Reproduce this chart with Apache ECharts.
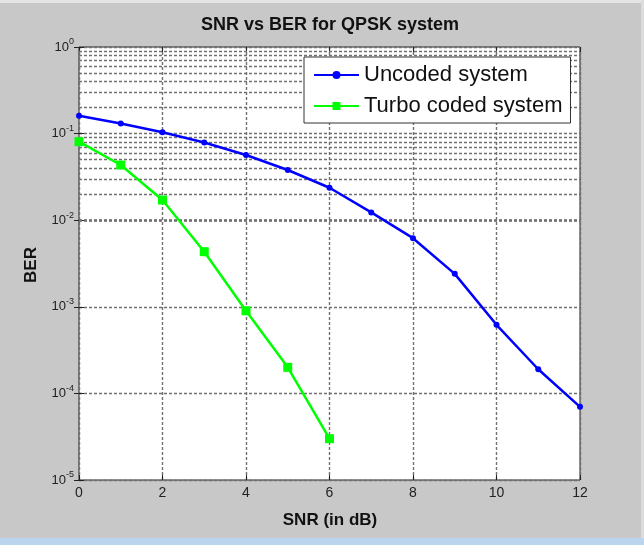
<!DOCTYPE html>
<html>
<head>
<meta charset="utf-8">
<script src="https://cdn.jsdelivr.net/npm/echarts@6/dist/echarts.min.js"></script>
<style>
  html, body { margin: 0; padding: 0; background: #c8c8c8; }
  #chart { width: 644px; height: 545px; }
</style>
</head>
<body>
<div id="chart"></div>
<script>
// SNR (dB) and BER values
var snrUncoded = [0, 1, 2, 3, 4, 5, 6, 7, 8, 9, 10, 11, 12]
var berUncoded = [0.161, 0.131, 0.1035, 0.079, 0.0566, 0.038, 0.0237, 0.0123, 0.0062, 0.0024, 0.00062, 0.00019, 0.00007]
var snrTurbo = [0, 1, 2, 3, 4, 5, 6]
var berTurbo = [0.0807, 0.0434, 0.0171, 0.00433, 0.0009, 0.0002, 0.00003]

var xMin = 0
var xMax = 12
var xStep = 2
var yMin = 1e-5
var yMax = 1

// minor log grid lines (2..9 in each decade)
var minorGrid = []
for (var k = -5; k < 0; k++) {
  for (var d = 2; d <= 9; d++) {
    minorGrid.push({ yAxis: d * Math.pow(10, k) })
  }
}

var pairs = function (xs, ys) {
  return xs.map(function (x, i) { return [x, ys[i]] })
}

var gridLine = { color: '#707070', width: 1.4, type: [3, 2] }
var font = 'Arial, "Liberation Sans", sans-serif'

var chart = echarts.init(document.getElementById('chart'))
chart.setOption({
  animation: false,
  backgroundColor: '#c8c8c8',
  textStyle: { fontFamily: font },
  grid: {
    left: 79,
    right: 64,
    top: 47,
    bottom: 65,
    show: true,
    backgroundColor: '#fff',
    borderColor: '#222',
    borderWidth: 1,
  },
  legend: {
    left: 304,
    top: 57,
    orient: 'vertical',
    itemWidth: 45,
    itemHeight: 10,
    itemGap: 9,
    padding: [7, 8, 6, 9],
    backgroundColor: '#fff',
    borderColor: '#333',
    borderWidth: 1,
    borderRadius: 0,
    textStyle: { fontSize: 22, color: '#111', fontFamily: font },
    data: ['Uncoded system', 'Turbo coded system'],
  },
  xAxis: [
    {
      type: 'value',
      min: xMin,
      max: xMax,
      interval: xStep,
      axisLine: { show: false },
      axisTick: { show: true, inside: true, length: 5, lineStyle: { color: '#222' } },
      axisLabel: { color: '#222', fontSize: 14, margin: 6 },
      splitLine: { show: true, lineStyle: gridLine },
    },
    {
      type: 'value',
      position: 'top',
      min: xMin,
      max: xMax,
      interval: xStep,
      axisLine: { show: false },
      axisTick: { show: true, inside: true, length: 5, lineStyle: { color: '#222' } },
      axisLabel: { show: false },
      splitLine: { show: false },
    },
  ],
  yAxis: [
    {
      type: 'log',
      logBase: 10,
      min: yMin,
      max: yMax,
      axisLine: { show: false },
      axisTick: { show: true, inside: true, length: 5, lineStyle: { color: '#222' } },
      axisLabel: {
        margin: 5,
        formatter: function (v) {
          var e = Math.round(Math.log10(v))
          return '{b|10}{e|' + e + '}'
        },
        rich: {
          b: { fontSize: 13, color: '#222' },
          e: { fontSize: 9, color: '#222', padding: [0, 0, 10, 0] },
        },
      },
      splitLine: { show: true, lineStyle: gridLine },
    },
    {
      type: 'log',
      logBase: 10,
      position: 'right',
      min: yMin,
      max: yMax,
      axisLine: { show: false },
      axisTick: { show: true, inside: true, length: 5, lineStyle: { color: '#222' } },
      axisLabel: { show: false },
      splitLine: { show: false },
    },
  ],
  graphic: [
    { type: 'rect', shape: { x: 0, y: 0, width: 644, height: 3 }, style: { fill: '#e4e4e4' } },
    { type: 'rect', shape: { x: 641, y: 0, width: 3, height: 545 }, style: { fill: '#dcdcdc' } },
    { type: 'rect', shape: { x: 0, y: 538, width: 644, height: 7 }, style: { fill: '#bcd5ee' } },
    {
      type: 'text', x: 330, y: 25,
      style: { text: 'SNR vs BER for QPSK system', font: 'bold 18px ' + font, fill: '#111', textAlign: 'center', textVerticalAlign: 'middle' },
    },
    {
      type: 'text', x: 330, y: 520,
      style: { text: 'SNR (in dB)', font: 'bold 17px ' + font, fill: '#111', textAlign: 'center', textVerticalAlign: 'middle' },
    },
    {
      type: 'text', x: 31, y: 265, rotation: Math.PI / 2,
      style: { text: 'BER', font: 'bold 17px ' + font, fill: '#111', textAlign: 'center', textVerticalAlign: 'middle' },
    },
  ],
  series: [
    {
      name: 'Uncoded system',
      type: 'line',
      data: pairs(snrUncoded, berUncoded),
      symbol: 'circle',
      symbolSize: 6,
      lineStyle: { color: '#0000ff', width: 2.5 },
      itemStyle: { color: '#0000ff' },
      z: 5,
      markLine: {
        silent: true,
        symbol: ['none', 'none'],
        label: { show: false },
        lineStyle: gridLine,
        emphasis: { disabled: true },
        data: minorGrid,
        z: 1,
      },
    },
    {
      name: 'Turbo coded system',
      type: 'line',
      data: pairs(snrTurbo, berTurbo),
      symbol: 'rect',
      symbolSize: 9,
      lineStyle: { color: '#00ff00', width: 2.5 },
      itemStyle: { color: '#00ff00' },
      z: 5,
    },
  ],
})
</script>
</body>
</html>
